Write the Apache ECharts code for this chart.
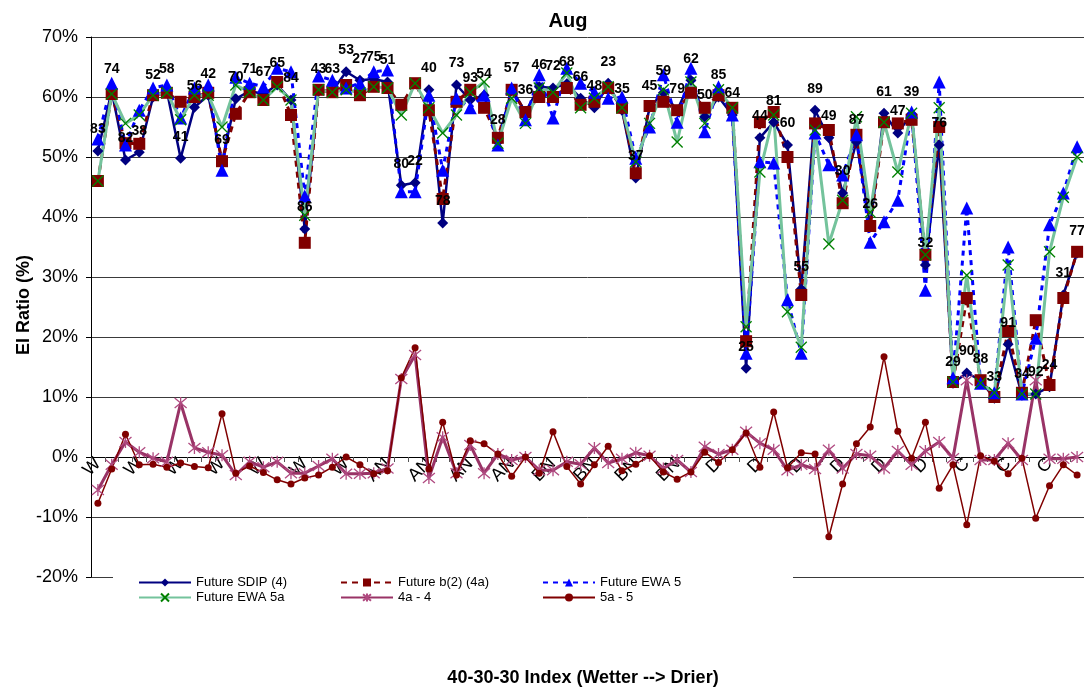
<!DOCTYPE html>
<html><head><meta charset="utf-8">
<script src="https://cdn.jsdelivr.net/npm/echarts@6/dist/echarts.min.js"></script>
<style>html,body{margin:0;padding:0;background:#fff;}#c{width:1084px;height:690px;}</style>
</head><body><div id="c"></div>
<script>
const FONT = 'Liberation Sans, Arial, sans-serif';
// 72 years sorted by 40-30-30 index (wetter -> drier)
const categories = [
 'W','W','W','W','W','W','W','W','W','W','W','W','W','W','W','W','W','W','W','W','W',
 'AN','AN','AN','AN','AN','AN','AN','AN','AN','AN','AN','AN',
 'BN','BN','BN','BN','BN','BN','BN','BN','BN','BN','BN','BN',
 'D','D','D','D','D','D','D','D','D','D','D','D','D','D','D','D','D','D',
 'C','C','C','C','C','C','C','C','C'];
const yearLabels = [83,74,82,38,52,58,41,56,42,69,70,71,67,65,84,86,43,63,53,27,75,51,80,22,40,78,73,93,54,28,57,36,46,72,68,66,48,23,35,37,45,59,79,62,50,85,64,25,44,81,60,55,89,49,30,87,26,61,47,39,32,76,29,90,88,33,91,34,92,24,31,77];
const yTicks = {min: -20, max: 70, step: 10};
const sdip = [51,61,49.5,50.8,60,61,49.8,58.3,60.3,49.2,59.7,61,60.5,62,59.5,38,61,61,64.2,62.8,63,62.5,45.3,45.7,61.2,39,62,59.5,60.3,52.5,61.3,57.5,61.7,61.5,62.2,59.8,58.2,62.3,57.8,46.5,58.3,60.7,57.8,62.8,56.7,60,57,14.8,53.2,55.8,52,28,57.8,53.2,44,52.5,38.5,57.3,54,57.2,32,52,12.3,14,12.8,9.8,18.8,10.3,10.5,11.7,27,34];
const b2 = [46,60.5,52.3,52.2,60.3,60.7,59.2,60,60.7,49.3,57.2,60.8,59.5,62.5,57,35.7,61.2,60.8,62,60.3,61.7,61.5,58.7,62.3,57.8,43,59.2,61.2,58.2,53.2,61.2,57.5,60,60,61.5,58.7,59.2,61.5,58.2,47.3,58.5,59.2,57.8,60.7,58.2,60.3,58.2,19.3,55.8,57.5,50,27,55.6,54.5,42.3,53.7,38.5,55.8,55.6,56.2,33.7,55,12.5,26.5,12.8,10,21,10.7,22.8,12,26.5,34.2];
const ewa5 = [53,62.3,52,57.8,61.5,62,56.5,61.5,62,47.8,63.3,62.3,61.7,64.8,64.2,43.5,63.5,62.8,61.5,62.3,64.2,64.5,44.2,44.2,60.3,47.8,59.8,58.2,60.3,52,61.5,56.2,63.7,56.5,64.8,62.3,60.8,59.8,60,49.8,55,63.7,55.8,64.8,54.2,61.7,57,17.3,49.2,49,26.2,17.3,54,48.7,47,53.7,35.8,39.2,42.8,57.5,27.8,62.5,13.2,41.5,12.3,10.7,35,10.5,19.8,38.7,44,51.7];
const ewa5a = [46,60.5,55.6,57,60.3,60.7,56.2,60.3,60.3,55,62,60.8,59.5,61.7,59.5,40.3,61.2,60.8,61.2,60.7,61.7,61.5,57,62.3,58.2,54,57,60.8,62.5,52.3,59.8,55.6,61.5,60.8,64,58.2,59.8,61.7,58.2,49.2,55.6,61.2,52.5,62.5,55.6,61.2,58.2,21.7,47.5,57,24.2,18.3,54.5,35.5,42.8,56.7,40.8,55.8,47.5,57.3,33.7,58.2,12.5,30.3,12.3,10.7,32,10.5,10.5,34.2,43.3,50];
const diff4a4 = [-5.5,-1.3,2.5,0.8,-0.2,-0.8,9,1.5,0.8,0.3,-3,-0.8,-1.7,-0.8,-2.7,-2.7,-1.5,-0.3,-2.8,-2.8,-2.7,-1.9,13,17,-3.5,3.3,-2.7,2,-2.7,0.5,-0.5,0,-2.2,-2.2,-0.8,-1.2,1.5,-1,-0.3,0.7,0.2,-1.9,-0.5,-2.5,1.7,0.5,1.2,4.2,2.3,1.2,-2.2,-1.3,-2,1.2,-1.9,0.5,0.2,-1.9,1,-1.3,1,2.5,-0.2,12.8,-0.5,-0.5,2.3,-0.5,12.8,-0.3,-0.3,0];
const diff5a5 = [-7.7,-2,3.8,-1.3,-1.2,-1.7,-1,-1.6,-1.8,7.2,-2.7,-1.5,-2.6,-3.8,-4.5,-3.5,-3,-1.7,0,-1.3,-2.8,-2.3,13.2,18.2,-2,5.8,-3,2.7,2.2,0.5,-3.2,0,-2.7,4.2,-1.6,-4.5,-1.3,1.8,-2.3,-1.2,0.2,-2.5,-3.7,-2.5,0.8,-0.9,1.2,4,-1.7,7.5,-1.8,0.7,0.5,-13.3,-4.5,2.2,5,16.7,4.3,-0.2,5.8,-5.2,-1.3,-11.3,0.2,-0.7,-2.8,-0.2,-10.2,-4.8,-1.3,-3];

const X_PATH = 'path://M0,0L10,10M10,0L0,10';
const STAR_PATH = 'path://M0,0L10,10M10,0L0,10M5,-1L5,11';

const chart = echarts.init(document.getElementById('c'), null, {renderer: 'canvas'});
const legendBase = {
  selectedMode: false, itemWidth: 52, itemHeight: 10, itemGap: 0, padding: 0,
  textStyle: {fontFamily: FONT, fontSize: 13, color: '#000'}, z: 10
};
function lg(name, left, top) { return Object.assign({}, legendBase, {data: [name], left: left, top: top}); }
const common = {type: 'line', showAllSymbol: true};

chart.setOption({
  animation: false,
  backgroundColor: '#fff',
  textStyle: {fontFamily: FONT},
  title: {text: 'Aug', left: 563, top: 6, textAlign: 'center',
    textStyle: {fontFamily: FONT, fontSize: 20, fontWeight: 'bold', color: '#000'}},
  grid: {left: 91, right: -8, top: 37, bottom: 113, containLabel: false},
  legend: [
    lg('Future SDIP (4)', 138, 576), lg('Future b(2) (4a)', 340, 576), lg('Future EWA 5', 542, 576),
    lg('Future EWA 5a', 138, 591), lg('4a - 4', 340, 591), lg('5a - 5', 542, 591)
  ],
  graphic: [
    {type: 'rect', z: 5, shape: {x: 113, y: 569, width: 680, height: 38}, style: {fill: '#fff'}},
    {type: 'text', z: 10, x: 24, y: 305, rotation: Math.PI / 2,
      style: {text: 'EI Ratio (%)', fontFamily: FONT, fontSize: 18, fontWeight: 'bold', fill: '#000', align: 'center', verticalAlign: 'middle'}},
    {type: 'text', z: 10, x: 583, y: 678,
      style: {text: '40-30-30 Index (Wetter --> Drier)', fontFamily: FONT, fontSize: 18, fontWeight: 'bold', fill: '#000', align: 'center', verticalAlign: 'middle'}}
  ],
  xAxis: {
    type: 'category', data: categories, boundaryGap: true, position: 'bottom', offset: -120,
    axisLine: {onZero: false, lineStyle: {color: '#000', width: 1}},
    axisTick: {show: true, interval: 0, length: 5, lineStyle: {color: '#555'}},
    axisLabel: {interval: 2, rotate: 45, fontSize: 18, color: '#000', margin: 4, fontFamily: FONT},
    splitLine: {show: false}
  },
  yAxis: {
    type: 'value', min: yTicks.min, max: yTicks.max, interval: yTicks.step,
    axisLine: {show: true, lineStyle: {color: '#000', width: 1}},
    axisTick: {show: true, length: 5, lineStyle: {color: '#000'}},
    axisLabel: {formatter: '{value}%', fontSize: 18, color: '#000', margin: 13, fontFamily: FONT},
    splitLine: {show: true, lineStyle: {color: '#3a3a3a', width: 1}}
  },
  series: [
    Object.assign({}, common, {name: 'Future SDIP (4)', data: sdip, symbol: 'diamond', symbolSize: 11,
      itemStyle: {color: '#000080'}, lineStyle: {color: '#000080', width: 2.5}}),
    Object.assign({}, common, {name: 'Future b(2) (4a)', data: b2, symbol: 'rect', symbolSize: 12,
      itemStyle: {color: '#800000'}, lineStyle: {color: '#800000', width: 3, type: [6, 5]}}),
    Object.assign({}, common, {name: 'Future EWA 5', data: ewa5, symbol: 'triangle', symbolSize: 13,
      itemStyle: {color: '#0000ff'}, lineStyle: {color: '#0000ff', width: 3, type: [5, 5]}}),
    Object.assign({}, common, {name: 'Future EWA 5a', data: ewa5a, symbol: X_PATH, symbolSize: 11,
      itemStyle: {color: '#008000', borderColor: '#008000', borderWidth: 1.3},
      lineStyle: {color: '#74c39c', width: 3}}),
    Object.assign({}, common, {name: '4a - 4', data: diff4a4, symbol: STAR_PATH, symbolSize: 12,
      itemStyle: {color: '#993366', borderColor: '#b04a80', borderWidth: 1.3},
      lineStyle: {color: '#993366', width: 3}}),
    Object.assign({}, common, {name: '5a - 5', data: diff5a5, symbol: 'circle', symbolSize: 7,
      itemStyle: {color: '#800000'}, lineStyle: {color: '#800000', width: 1.5}}),
    Object.assign({}, common, {name: 'labels', data: sdip, symbol: 'circle', symbolSize: 1, z: 6,
      itemStyle: {color: 'rgba(0,0,0,0)'}, lineStyle: {width: 0, opacity: 0},
      label: {show: true, position: 'top', distance: 14, fontFamily: FONT, fontSize: 14, fontWeight: 'bold', color: '#000',
        formatter: function (p) { return String(yearLabels[p.dataIndex]); }},
      silent: true})
  ]
});
</script></body></html>
